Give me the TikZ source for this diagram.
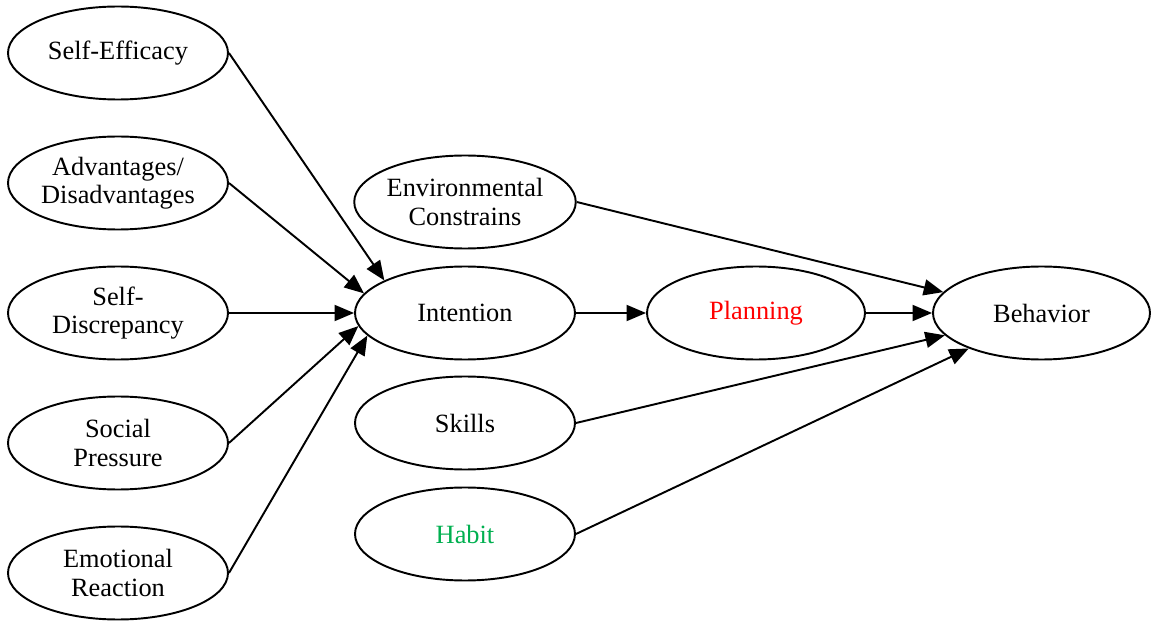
\documentclass[tikz,border=0pt]{standalone}
\usepackage{fontspec}
\setmainfont{Liberation Serif}
\usepackage{xcolor}
\usetikzlibrary{shapes.geometric, arrows.meta, positioning}
\definecolor{planred}{RGB}{255, 0, 0}
\definecolor{habitgreen}{RGB}{0, 176, 80}

\begin{document}
\begin{tikzpicture}[
    factor/.style={
        ellipse,
        draw=black,
        fill=white,
        line width=1.1pt,
        minimum width=4.4cm,
        minimum height=1.86cm,
        inner sep=0pt,
        align=center,
        font=\fontsize{15}{16}\selectfont
    },
    arrow/.style={
        -{Triangle[length=3.9mm, width=3.2mm]},
        line width=1.1pt,
        black
    }
]

% Canvas
\useasboundingbox (0,0) rectangle (23.02,12.46);

% Left column
\node[factor] (selfeff) at (2.36,11.4) {Self-Efficacy};
\node[factor] (advant) at (2.36,8.8) {Advantages/\\Disadvantages};
\node[factor] (discrep) at (2.36,6.2) {Self-\\Discrepancy};
\node[factor] (social) at (2.36,3.6) {Social\\Pressure};
\node[factor] (emotion) at (2.36,1.0) {Emotional\\Reaction};

% Middle column
\node[factor] (envcon) at (9.3,8.42) {Environmental\\Constrains};
\node[factor] (intention) at (9.3,6.2) {Intention};
\node[factor] (skills) at (9.3,4.0) {Skills};
\node[factor, text=habitgreen] (habit) at (9.3,1.78) {Habit};

% Right part
\node[factor, text=planred, minimum width=4.36cm] (planning) at (15.12,6.2) {Planning};
\node[factor, minimum width=4.34cm] (behavior) at (20.83,6.2) {Behavior};

% Connections into intention
\draw[arrow] (selfeff.east) -- (intention.158);
\draw[arrow] (advant.east) -- (intention.169);
\draw[arrow] (discrep.east) -- (intention.west);
\draw[arrow] (social.east) -- (intention.187);
\draw[arrow] (emotion.east) -- (intention.193);

% Connections into behavior
\draw[arrow] (intention) -- (planning);
\draw[arrow] (planning) -- (behavior);
\draw[arrow] (envcon.east) -- (behavior.168);
\draw[arrow] (skills.east) -- (behavior.193);
\draw[arrow] (habit.east) -- (behavior.206);

\end{tikzpicture}
\end{document}
